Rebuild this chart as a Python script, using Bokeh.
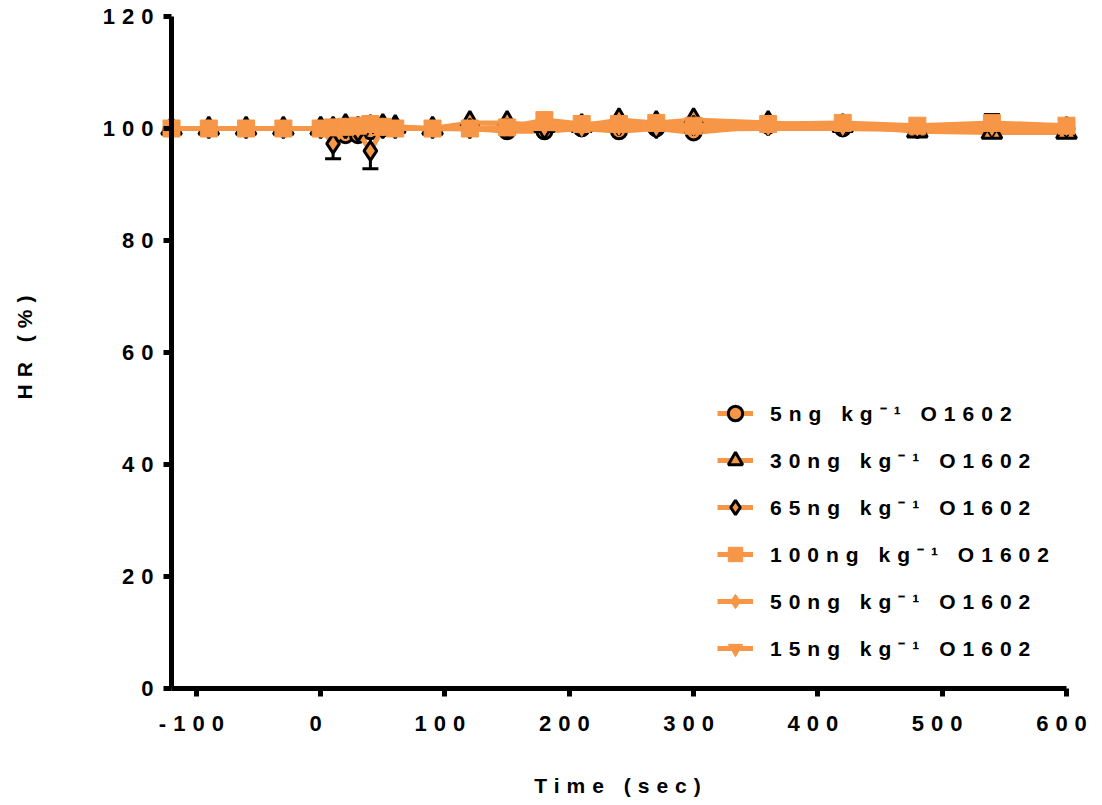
import math
from bokeh.plotting import figure
from bokeh.models import (ColumnDataSource, Whisker, TeeHead, Legend, LegendItem,
                          FixedTicker, InlineStyleSheet, LabelSet, Label)
from bokeh.core.properties import value
from bokeh.embed import file_html
from bokeh.resources import INLINE

time_s = [-120, -90, -60, -30, 0, 10, 20, 30, 40, 50, 60, 90, 120, 150, 180, 210, 240, 270, 300, 360, 420, 480, 540, 600]

hr_5ng = [100, 100, 100, 100, 100, 99.5, 98.8, 98.8, 99.5, 100, 100, 100, 100, 99.5, 99.5, 100, 99.5, 100, 99.3, 100.5, 100, 99.8, 100, 100]
hr_30ng = [100, 100, 100, 100, 100, 100, 100.5, 100, 100.3, 100.5, 100.3, 100, 101, 101, 100.5, 100.5, 101.5, 101, 101.5, 101, 100.5, 99.5, 99.3, 99.3]
hr_65ng = [100, 100, 100, 100, 100, 97.3, 100, 99.5, 96.0, 100, 100, 100, 100, 100, 100, 100.5, 100.5, 100, 100.5, 100.5, 100.5, 100, 100.3, 100.3]
err_65ng = [0, 0, 0, 0, 0, 2.7, 0, 0, 3.2, 0, 0, 0, 0, 0, 0, 0, 0, 0, 0, 0, 0, 0, 0, 0]
hr_100ng = [100, 100, 100, 100, 100, 100.2, 100.3, 100.5, 100.8, 100.3, 100, 100, 100, 100.2, 101.5, 100.8, 100.8, 101, 100.5, 100.8, 101, 100.5, 101, 100.5]
err_100ng = [0, 0, 0, 0, 0, 0, 0, 0, 0, 0, 0, 0, 0, 0, 1.2, 0.5, 0.5, 0, 0, 0, 0, 0, 1.5, 0]
hr_50ng = [100, 100, 100, 100, 100, 100.1, 100, 100.2, 100, 100, 100.1, 100, 100, 100.1, 100.2, 100, 100.1, 100, 100, 100.2, 100.1, 100, 100.1, 100]
hr_15ng = [100, 100, 100, 100, 100, 99.9, 100, 99.8, 100, 99.9, 100, 100, 99.9, 100, 100, 99.8, 100, 100, 99.9, 100, 100, 99.9, 100, 100]

labels = ["5ng kg\u207b\u00b9 O1602", "30ng kg\u207b\u00b9 O1602", "65ng kg\u207b\u00b9 O1602",
          "100ng kg\u207b\u00b9 O1602", "50ng kg\u207b\u00b9 O1602", "15ng kg\u207b\u00b9 O1602"]
x_ticks = [-100, 0, 100, 200, 300, 400, 500, 600]
y_ticks = [0, 20, 40, 60, 80, 100, 120]
x_title = "Time (sec)"
y_title = "HR (%)"
X_MIN, X_MAX = -120, 600
Y_MIN, Y_MAX = 0, 120

ORANGE = "#F79646"
FONT = "Liberation Sans"
SPACING = 7  # css letter spacing (px) mimicking the wide tracking of the original

# page geometry (pixels): the data box and the figure size
W, H = 1094, 797
LEFT, RIGHT, TOP, BOTTOM = 171, 1066, 16, 688
sx = (RIGHT - LEFT) / (X_MAX - X_MIN)
sy = (BOTTOM - TOP) / (Y_MAX - Y_MIN)
xr = (X_MIN - LEFT / sx, X_MAX + (W - RIGHT) / sx)
yr = (Y_MIN - (H - BOTTOM) / sy, Y_MAX + TOP / sy)

p = figure(width=W, height=H, output_backend="svg", toolbar_location=None,
           x_range=xr, y_range=yr,
           min_border_left=0, min_border_right=0, min_border_top=0, min_border_bottom=0)
p.stylesheets = [InlineStyleSheet(css=":host { letter-spacing: %spx; }" % SPACING)]
p.xgrid.visible = False
p.ygrid.visible = False
p.outline_line_color = None

p.xaxis.fixed_location = Y_MIN
p.yaxis.fixed_location = X_MIN
p.xaxis.bounds = (X_MIN, X_MAX)
p.yaxis.bounds = (Y_MIN, Y_MAX)
for ax in (p.xaxis[0], p.yaxis[0]):
    ax.axis_line_width = 5
    ax.axis_line_color = "black"
    ax.major_tick_line_width = 5
    ax.major_tick_out = 8
    ax.major_tick_in = 0
    ax.minor_tick_line_color = None
    ax.major_label_text_font_size = "1px"

p.xaxis.ticker = FixedTicker(ticks=x_ticks)
p.yaxis.ticker = FixedTicker(ticks=y_ticks)
# tick labels are drawn as label sets (so the tracking can be compensated)
p.xaxis.major_label_overrides = {t: "" for t in x_ticks}
p.yaxis.major_label_overrides = {t: "" for t in y_ticks}

xt_text = ["%d" % t for t in x_ticks]
xt_src = ColumnDataSource(dict(x=x_ticks, y=[Y_MIN] * len(x_ticks), text=xt_text,
                               xoff=[-5 - (len(s) - 1) * SPACING / 2 for s in xt_text]))
p.add_layout(LabelSet(source=xt_src, x="x", y="y", text="text", x_offset="xoff", y_offset=-35,
                      text_align="center", text_baseline="middle", text_font=value(FONT),
                      text_font_style="bold", text_font_size="22px", text_color="black"))

yt_text = ["%d" % t for t in y_ticks]
yt_src = ColumnDataSource(dict(x=[X_MIN] * len(y_ticks), y=y_ticks, text=yt_text,
                               xoff=[-18 - (len(s) - 1) * SPACING for s in yt_text]))
p.add_layout(LabelSet(source=yt_src, x="x", y="y", text="text", x_offset="xoff",
                      text_align="right", text_baseline="middle", text_font=value(FONT),
                      text_font_style="bold", text_font_size="22px", text_color="black"))

p.add_layout(Label(x=(X_MIN + X_MAX) / 2, y=Y_MIN, text=x_title,
                   x_offset=-1.5 - (len(x_title) - 1) * SPACING / 2, y_offset=-97,
                   text_align="center", text_baseline="middle", text_font=FONT,
                   text_font_style="bold", text_font_size="21px", text_color="black"))
p.add_layout(Label(x=X_MIN, y=(Y_MIN + Y_MAX) / 2, text=y_title, angle=math.pi / 2,
                   x_offset=-147, y_offset=5 - (len(y_title) - 1) * SPACING / 2,
                   text_align="center", text_baseline="middle", text_font=FONT,
                   text_font_style="bold", text_font_size="21px", text_color="black"))


def add_errors(vals, errs):
    xs = [t for t, e in zip(time_s, errs) if e > 0]
    up = [v + e for v, e in zip(vals, errs) if e > 0]
    lo = [v - e for v, e in zip(vals, errs) if e > 0]
    src = ColumnDataSource(dict(x=xs, upper=up, lower=lo))
    w = Whisker(source=src, base="x", upper="upper", lower="lower",
                line_color="black", line_width=3, level="underlay",
                upper_head=TeeHead(size=16, line_width=3, line_color="black"),
                lower_head=TeeHead(size=16, line_width=3, line_color="black"))
    p.add_layout(w)


add_errors(hr_65ng, err_65ng)
add_errors(hr_100ng, err_100ng)

series = [
    (hr_5ng, "circle", 15, "black", 3),
    (hr_30ng, "triangle", 20, "black", 3),
    (hr_65ng, "diamond", 19, "black", 3),
    (hr_100ng, "square", 17, ORANGE, 1),
    (hr_50ng, "diamond", 12, ORANGE, 1),
    (hr_15ng, "inverted_triangle", 12, ORANGE, 1),
]

items = {}
draw_order = [0, 1, 2, 4, 5, 3]
for i in draw_order:
    vals, marker, size, lc, lw = series[i]
    ln = p.line(time_s, vals, line_color=ORANGE, line_width=5)
    sc = p.scatter(time_s, vals, marker=marker, size=size, fill_color=ORANGE,
                   line_color=lc, line_width=lw)
    items[i] = LegendItem(label=labels[i], renderers=[ln, sc])

legend = Legend(items=[items[i] for i in range(6)], location=(546 + LEFT, 19 + H - BOTTOM),
                background_fill_alpha=0, border_line_color=None,
                glyph_width=36, glyph_height=42, label_height=28, spacing=5,
                label_standoff=17, padding=10,
                label_text_font=FONT, label_text_font_style="bold",
                label_text_font_size="21px", label_text_color="black")
p.add_layout(legend)

open("out.html", "w").write(file_html(p, INLINE))
